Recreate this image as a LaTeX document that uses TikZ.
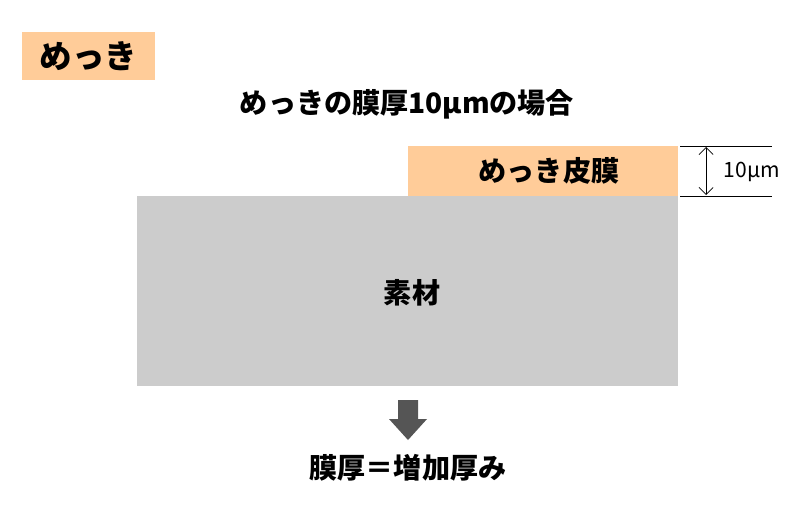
\documentclass[tikz,border=0pt]{standalone}
\usepackage{fontspec}
\setmainfont{Noto Sans CJK JP}
\usetikzlibrary{arrows.meta}
\definecolor{platecol}{HTML}{FFCC99}
\definecolor{basecol}{HTML}{CCCCCC}
\definecolor{arrowcol}{HTML}{555555}
\tikzset{
  jptext/.style={font=\bfseries\fontsize{16pt}{18pt}\selectfont},
  dimline/.style={line width=0.4pt, black}
}
\begin{document}
\begin{tikzpicture}[x=0.02cm, y=-0.02cm]
    \useasboundingbox (0,0) rectangle (800,514);

    % Title box
    \fill[platecol] (22,32) rectangle (155,80);
    \node[jptext, font=\bfseries\fontsize{18.5pt}{20pt}\selectfont] (title) at (88.5,56) {めっき};

    % Subtitle
    \node[jptext] (subtitle) at (407,104) {めっきの膜厚10μmの場合};

    % Plating layer and substrate
    \fill[platecol] (408,146) rectangle (678,196);
    \node[jptext] (plate) at (549,171) {めっき皮膜};
    \fill[basecol] (137,196) rectangle (678,386);
    \node[jptext] (base) at (412,293) {素材};

    % Dimension
    \coordinate (top) at (706,147);
    \coordinate (bot) at (706,195);
    \draw[dimline] (680,146) -- (772,146);
    \draw[dimline] (680,196) -- (772,196);
    \draw[dimline, {Straight Barb[length=4pt]}-{Straight Barb[length=4pt]}] (top) -- (bot);
    \node[font=\fontsize{12pt}{14pt}\selectfont] (thick) at (752,172) {10μm};

    % Block arrow
    \fill[arrowcol] (398,400) -- (418,400) -- (418,419) -- (427,419)
        -- (408,440) -- (389,419) -- (398,419) -- cycle;

    % Result
    \node[jptext] (result) at (408,468) {膜厚＝増加厚み};
\end{tikzpicture}
\end{document}
